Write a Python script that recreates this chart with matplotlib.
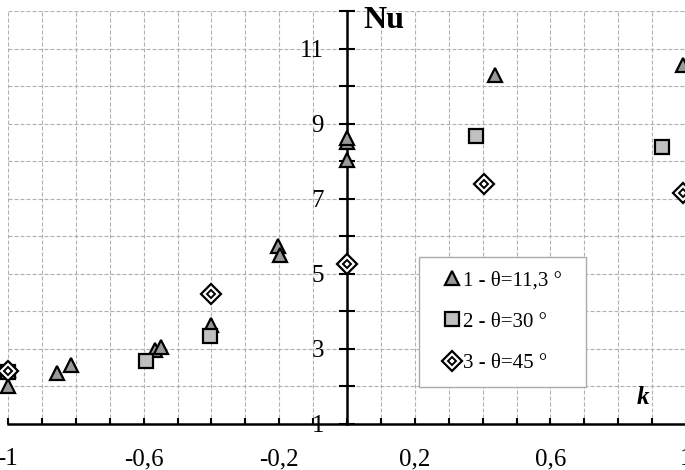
import numpy as np
import matplotlib
matplotlib.use('Agg')
import matplotlib.pyplot as plt
from matplotlib.legend_handler import HandlerTuple

plt.rcParams['font.family'] = ['Liberation Serif', 'DejaVu Serif']

# data (k, Nu)
tri_k = [-1.0, -1.0, -0.856, -0.814, -0.565, -0.55, -0.40, -0.204, -0.198, 0.0, 0.0, 0.0, 0.437, 0.99]
tri_nu = [2.0, 2.45, 2.36, 2.57, 2.97, 3.06, 3.64, 5.73, 5.5, 8.04, 8.5, 8.62, 10.3, 10.55]

sq_k = [-1.0, -0.594, -0.404, 0.38, 0.928]
sq_nu = [2.38, 2.68, 3.35, 8.68, 8.39]

dia_k = [-1.0, -0.401, 0.0, 0.404, 0.99]
dia_nu = [2.4, 4.46, 5.27, 7.4, 7.16]

labels = ['1 - θ=11,3 °', '2 - θ=30 °', '3 - θ=45 °']

x_label_pos = [-1.0, -0.6, -0.2, 0.2, 0.6, 1.0]
x_label_txt = ['-1', '-0,6', '-0,2', '0,2', '0,6', '1']
y_label_pos = [1, 3, 5, 7, 9, 11]

fig = plt.figure(figsize=(6.85, 4.7), dpi=100)
ax = fig.add_axes([8 / 685, 46 / 470, 678 / 685, 413 / 470])
ax.set_xlim(-1, 1)
ax.set_ylim(1, 12)

# axes cross at k=0
ax.spines['left'].set_position(('data', 0))
ax.spines['top'].set_visible(False)
ax.spines['right'].set_visible(False)
for s in ['left', 'bottom']:
    ax.spines[s].set_linewidth(1.8)

xt = np.round(np.arange(-1, 1.001, 0.1), 1)
xl = {round(p, 1): t for p, t in zip(x_label_pos, x_label_txt)}
ax.set_xticks(xt, labels=[xl.get(round(v, 1), '') for v in xt])
yt = np.arange(1, 13)
ax.set_yticks(yt, labels=[str(v) if v in y_label_pos else '' for v in yt])

ax.tick_params(axis='x', direction='in', length=4, width=1.5, pad=17.5, labelsize=18)
ax.tick_params(axis='y', direction='inout', length=11, width=1.5, pad=11, labelsize=18)

ax.set_axisbelow(True)
ax.grid(True, ls=(0, (3.6, 1.8)), color='#b0b0b0', lw=0.8)

tri, = ax.plot(tri_k, tri_nu, ls='none', marker='^', ms=10.5, mfc='#999999',
               mec='black', mew=1.6, clip_on=False, zorder=3)
sq, = ax.plot(sq_k, sq_nu, ls='none', marker='s', ms=10.5, mfc='#c0c0c0',
              mec='black', mew=1.6, clip_on=False, zorder=4)
dia_o, = ax.plot(dia_k, dia_nu, ls='none', marker='D', ms=10.5, mfc='white',
                 mec='black', mew=1.6, clip_on=False, zorder=5)
dia_i, = ax.plot(dia_k, dia_nu, ls='none', marker='D', ms=4.5, mfc='white',
                 mec='black', mew=1.4, clip_on=False, zorder=6)

fig.text(384 / 685, 1 - 20 / 470, 'Nu', fontsize=23, fontweight='bold',
         ha='center', va='center')
fig.text(643 / 685, 1 - 397 / 470, 'k', fontsize=18, fontweight='bold',
         style='italic', ha='center', va='center')

# en space at the end widens the box on the right like in the source
leg = ax.legend([tri, sq, (dia_o, dia_i)], [t + '\u2002' for t in labels],
                handler_map={tuple: HandlerTuple(ndivide=1)},
                loc='upper left', bbox_to_anchor=(419 / 685, 1 - 257 / 470),
                bbox_transform=fig.transFigure, borderaxespad=0,
                fontsize=15, borderpad=0.65, labelspacing=1.05,
                handlelength=1.875, handletextpad=-0.41,
                fancybox=False, framealpha=1, edgecolor='#aaaaaa')
leg.get_frame().set_linewidth(1.0)
leg.set_zorder(10)

fig.savefig('out.png', dpi=100)
